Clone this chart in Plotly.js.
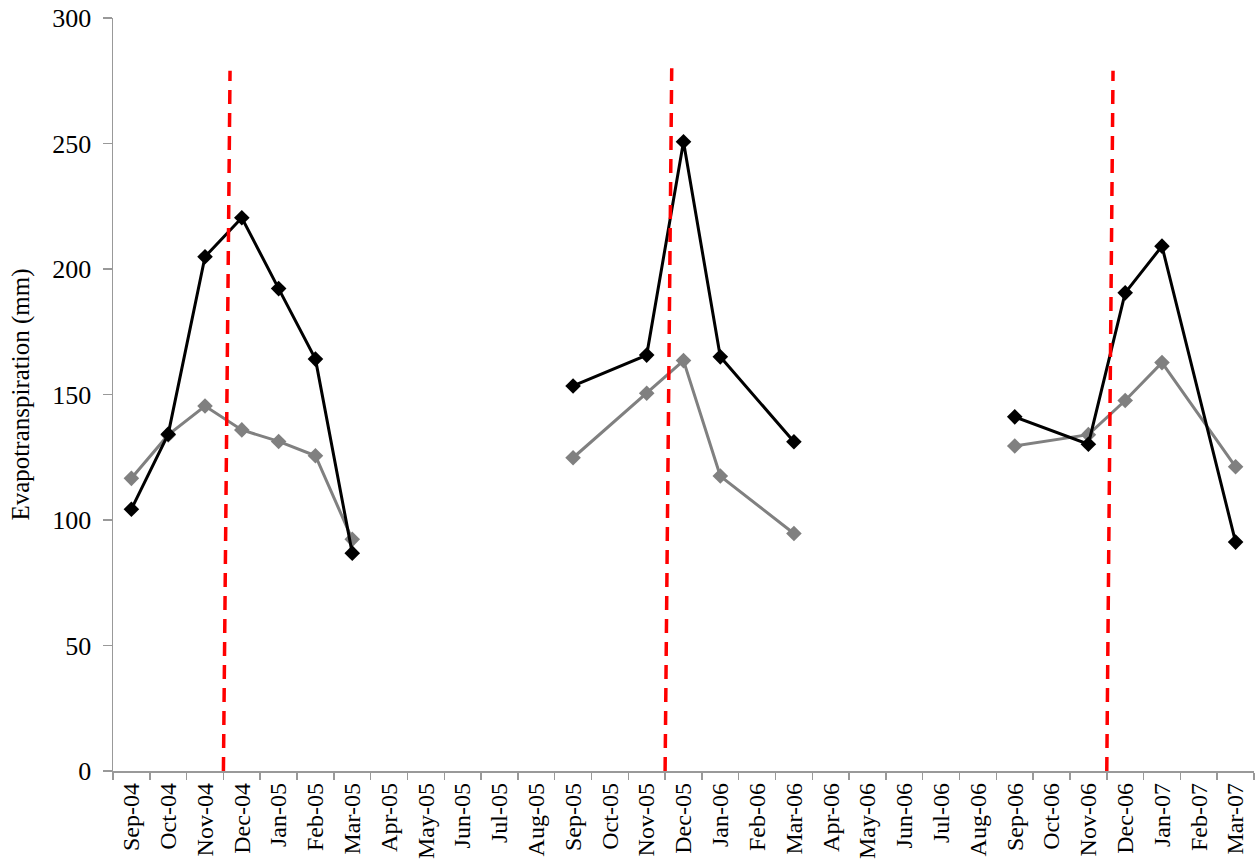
<!DOCTYPE html>
<html>
<head>
<meta charset="utf-8">
<script src="https://cdn.plot.ly/plotly-3.0.1.min.js"></script>
<style>html,body{margin:0;padding:0;background:#fff;}#chart{width:1255px;height:863px;}</style>
</head>
<body>
<div id="chart"></div>
<script>
// Categories (months)
var months = ["Sep-04","Oct-04","Nov-04","Dec-04","Jan-05","Feb-05","Mar-05","Apr-05","May-05","Jun-05","Jul-05","Aug-05",
  "Sep-05","Oct-05","Nov-05","Dec-05","Jan-06","Feb-06","Mar-06","Apr-06","May-06","Jun-06","Jul-06","Aug-06",
  "Sep-06","Oct-06","Nov-06","Dec-06","Jan-07","Feb-07","Mar-07"];

// Black series (null = no value)
var blackValues = [104.3,134.2,204.9,220.4,192.2,164.1,86.8,null,null,null,null,null,
  153.4,null,165.7,250.7,165.0,null,131.2,null,null,null,null,null,
  141.1,null,130.2,190.5,209.1,null,91.2];

// Gray series
var grayValues = [116.6,133.9,145.4,135.9,131.3,125.6,92.3,null,null,null,null,null,
  124.8,null,150.5,163.5,117.5,null,94.6,null,null,null,null,null,
  129.5,null,134.0,147.6,162.7,null,121.2];

// Growing seasons (index ranges within months) - lines connect only within a season
var seasonStart = [0, 12, 24];
var seasonEnd = [6, 18, 30];

// Red dashed marker lines: bottom x, top x (category index units), top value
var dashBottomX = [2.5, 14.5, 26.5];
var dashTopX = [2.68, 14.68, 26.67];
var dashTopY = [279, 280, 279];

var traces = [];
function addSeries(vals, color) {
  for (var s = 0; s < seasonStart.length; s++) {
    var xs = [], ys = [];
    for (var i = seasonStart[s]; i <= seasonEnd[s]; i++) {
      if (vals[i] !== null) { xs.push(months[i]); ys.push(vals[i]); }
    }
    traces.push({
      type: 'scatter', mode: 'lines+markers', x: xs, y: ys,
      line: {color: color, width: 3},
      marker: {symbol: 'diamond', size: 12, color: color},
      showlegend: false, hoverinfo: 'x+y'
    });
  }
}
addSeries(grayValues, '#808080');
addSeries(blackValues, '#000000');

var shapes = [];
for (var k = 0; k < dashBottomX.length; k++) {
  shapes.push({
    type: 'line', xref: 'x', yref: 'y',
    x0: dashBottomX[k], y0: 0, x1: dashTopX[k], y1: dashTopY[k],
    line: {color: '#ff0000', width: 3.5, dash: '14px,9px'},
    layer: 'above'
  });
}

var font = 'Liberation Serif, Times New Roman, serif';
var layout = {
  width: 1255, height: 863,
  margin: {l: 113, r: 1, t: 18, b: 92},
  paper_bgcolor: '#ffffff', plot_bgcolor: '#ffffff',
  font: {family: font, color: '#000000'},
  showlegend: false,
  shapes: shapes,
  xaxis: {
    type: 'category', categoryorder: 'array', categoryarray: months,
    range: [-0.5, months.length - 0.5],
    tickson: 'boundaries', ticks: 'outside', ticklen: 7, tickcolor: '#999999', tickwidth: 1.5,
    tickangle: -90, tickfont: {family: font, size: 24, color: '#000000'},
    ticklabelstandoff: 1,
    showline: true, linecolor: '#999999', linewidth: 1.5,
    showgrid: false, zeroline: false, fixedrange: true, automargin: false
  },
  yaxis: {
    range: [0, 300], dtick: 50, tick0: 0,
    ticks: 'outside', ticklen: 9, tickcolor: '#999999', tickwidth: 1.5,
    tickfont: {family: font, size: 26, color: '#000000'},
    ticklabelstandoff: 6,
    showline: true, linecolor: '#999999', linewidth: 1.5,
    showgrid: false, zeroline: false, fixedrange: true, automargin: false,
    title: {text: 'Evapotranspiration (mm)', font: {family: font, size: 25, color: '#000000'}, standoff: 15}
  }
};

Plotly.newPlot('chart', traces, layout, {displayModeBar: false, staticPlot: true});
</script>
</body>
</html>
